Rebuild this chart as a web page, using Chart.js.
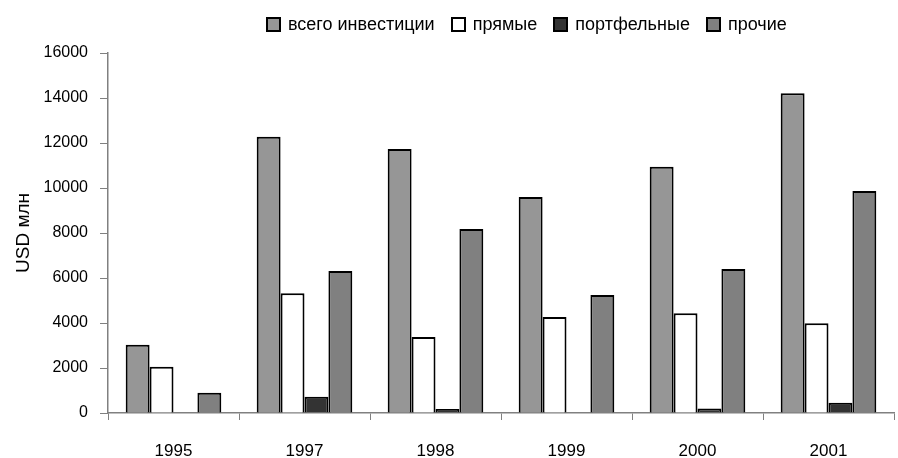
<!DOCTYPE html>
<html>
<head>
<meta charset="utf-8">
<script src="https://cdn.jsdelivr.net/npm/chart.js@4"></script>
<style>
  body { margin: 0; background: #fff; }
  #wrap { position: relative; width: 898px; height: 458px; }
  #legend { position: absolute; top: 14px; left: 266px; display: flex; font: 18px "Liberation Sans", Arial, sans-serif; color: #000; white-space: nowrap; }
  #legend span.item { display: flex; align-items: center; margin-right: 16px; }
  #legend span.box { width: 11px; height: 11px; border: 2px solid #000; margin-right: 7px; }
</style>
</head>
<body>
<div id="wrap">
  <canvas id="chart" width="898" height="458"></canvas>
  <div id="legend"></div>
</div>
<script>
  // Годы
  let years = ["1995", "1997", "1998", "1999", "2000", "2001"];
  // Значения, USD млн
  let vsego = [3030, 12280, 11730, 9600, 10950, 14210];
  let pryamye = [2060, 5320, 3380, 4270, 4430, 3990];
  let portfelnye = [0, 720, 180, 0, 200, 460];
  let prochie = [900, 6310, 8180, 5240, 6400, 9870];

  let yTicks = [0, 2000, 4000, 6000, 8000, 10000, 12000, 14000, 16000];

  let names = ["всего инвестиции", "прямые", "портфельные", "прочие"];
  let colors = ["#969696", "#ffffff", "#333333", "#808080"];
  let series = [vsego, pryamye, portfelnye, prochie];

  let datasets = series.map((values, i) => ({
    label: names[i],
    data: values,
    backgroundColor: colors[i],
    borderColor: "#000000",
    borderWidth: 2,
    borderSkipped: "bottom",
    categoryPercentage: 0.73,
    barPercentage: 1.0,
  }));

  // Легенда
  let legend = document.getElementById("legend");
  names.forEach((name, i) => {
    let item = document.createElement("span");
    item.className = "item";
    let box = document.createElement("span");
    box.className = "box";
    box.style.background = colors[i];
    item.appendChild(box);
    item.appendChild(document.createTextNode(name));
    legend.appendChild(item);
  });

  let family = "'Liberation Sans', Arial, sans-serif";

  let ctx = document.getElementById("chart").getContext("2d");
  new Chart(ctx, {
    type: "bar",
    data: { labels: years, datasets: datasets },
    options: {
      responsive: false,
      animation: false,
      layout: { padding: { top: 53, right: 4, left: 0, bottom: 0 } },
      plugins: { legend: { display: false }, tooltip: { enabled: false } },
      scales: {
        x: {
          grid: { drawOnChartArea: false, offset: true, tickLength: 7, color: "#808080", tickColor: "#808080" },
          border: { color: "#808080", width: 1.5 },
          ticks: { color: "#000", font: { family: family, size: 17 }, padding: 21 },
          afterFit: (scale) => { scale.height = 45; },
        },
        y: {
          min: 0,
          max: 16000,
          afterBuildTicks: (scale) => { scale.ticks = yTicks.map((v) => ({ value: v })); },
          grid: { drawOnChartArea: false, tickLength: 8, color: "#808080", tickColor: "#808080" },
          border: { color: "#808080", width: 1.5 },
          ticks: { color: "#000", font: { family: family, size: 16 }, padding: 12, callback: (v) => String(v) },
          title: { display: true, text: "USD млн", color: "#000", font: { family: family, size: 19 }, padding: { top: 12, bottom: 0 } },
          afterFit: (scale) => { scale.width = 108; },
        },
      },
    },
  });
</script>
</body>
</html>
